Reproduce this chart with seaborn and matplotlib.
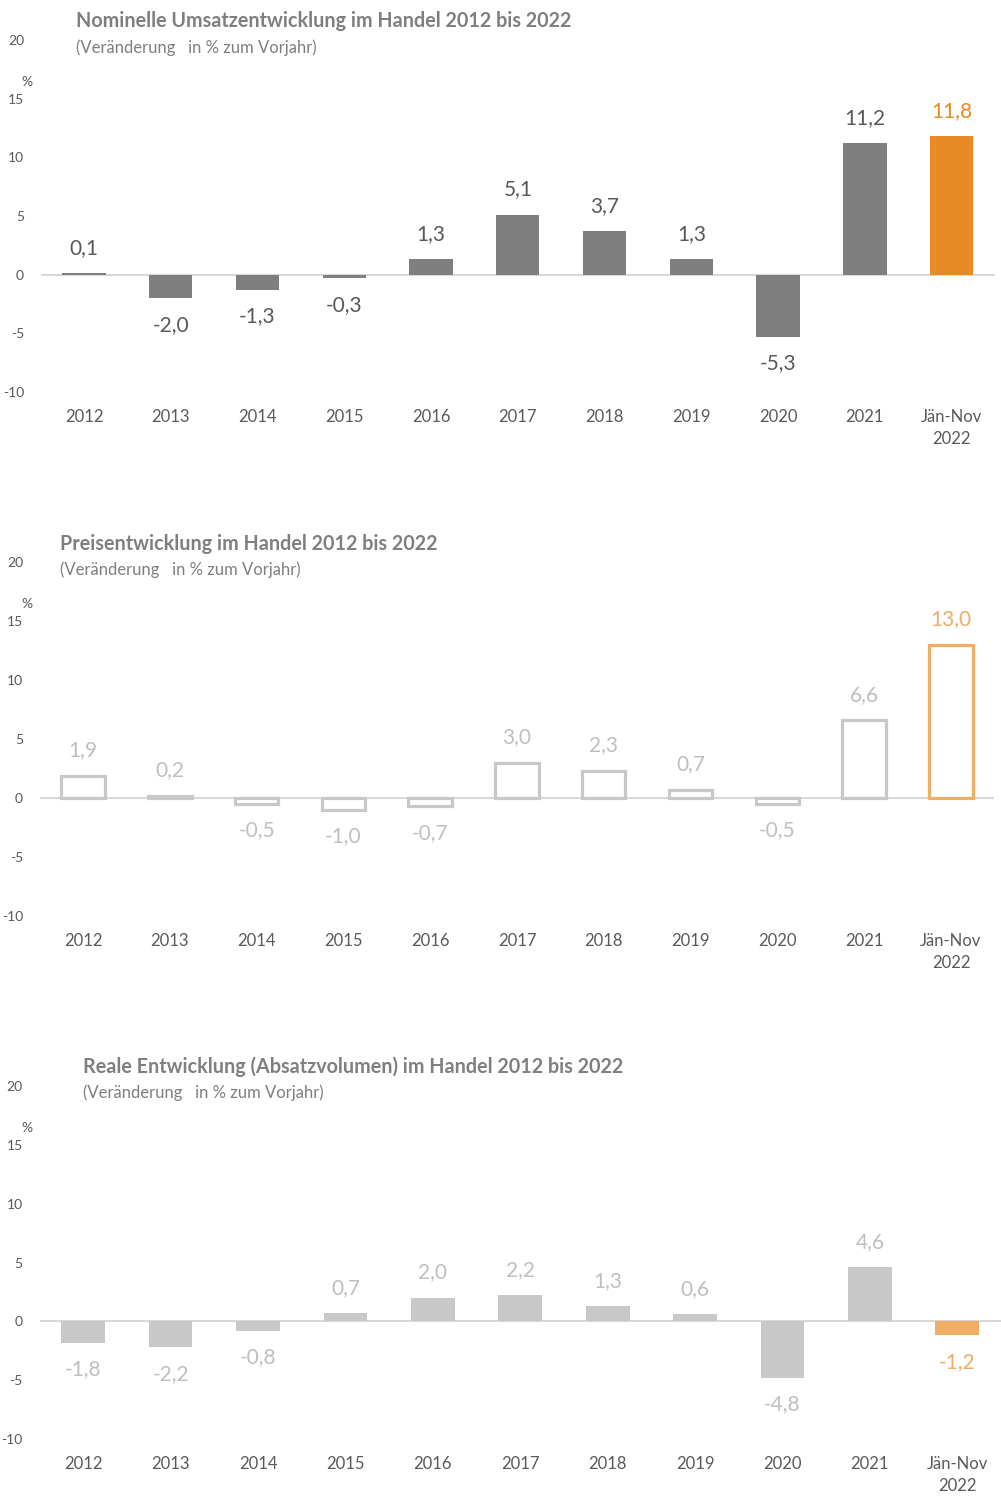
import matplotlib
matplotlib.use("Agg")
import matplotlib.pyplot as plt
import seaborn as sns
import pandas as pd

sns.set_theme(style="white")
plt.rcParams['font.family'] = ['Lato', 'DejaVu Sans']

categories = ["2012", "2013", "2014", "2015", "2016", "2017", "2018", "2019", "2020", "2021", "Jän-Nov\n2022"]
nominal = [0.1, -2.0, -1.3, -0.3, 1.3, 5.1, 3.7, 1.3, -5.3, 11.2, 11.8]
prices = [1.9, 0.2, -0.5, -1.0, -0.7, 3.0, 2.3, 0.7, -0.5, 6.6, 13.0]
real = [-1.8, -2.2, -0.8, 0.7, 2.0, 2.2, 1.3, 0.6, -4.8, 4.6, -1.2]
yticks = [-10, -5, 0, 5, 10, 15, 20]
titles = ["Nominelle Umsatzentwicklung im Handel 2012 bis 2022",
          "Preisentwicklung im Handel 2012 bis 2022",
          "Reale Entwicklung (Absatzvolumen) im Handel 2012 bis 2022"]
subtitle = "(Veränderung   in % zum Vorjahr)"

W, H = 1001, 1497
fig = plt.figure(figsize=(W / 100, H / 100), dpi=100)

def fx(px):
    return px / W

def fy(py):
    return 1 - py / H

panels = [
    dict(vals=nominal, top=40, bottom=392, left=40.6, right=995, title_x=76, title_y=21, sub_y=48,
         colors=["#7f7f7f"] * 10 + ["#e88a25"], lab=["#595959"] * 10 + ["#e88a25"], fill=True),
    dict(vals=prices, top=562, bottom=916, left=39.6, right=994.4, title_x=60, title_y=544, sub_y=570,
         colors=["#c8c8c8"] * 10 + ["#f0ad64"], lab=["#bfbfbf"] * 10 + ["#f0ad64"], fill=False),
    dict(vals=real, top=1086, bottom=1439, left=39.5, right=1001, title_x=83, title_y=1067, sub_y=1093,
         colors=["#c8c8c8"] * 10 + ["#f0ad64"], lab=["#bfbfbf"] * 10 + ["#f0ad64"], fill=True),
]

for i, p in enumerate(panels):
    ax = fig.add_axes([fx(p["left"]), fy(p["bottom"]), fx(p["right"] - p["left"]),
                       (p["bottom"] - p["top"]) / H])
    df = pd.DataFrame({"cat": categories, "val": p["vals"]})
    if p["fill"]:
        sns.barplot(data=df, x="cat", y="val", hue="cat", palette=p["colors"], legend=False,
                    width=0.5, ax=ax, saturation=1, linewidth=0)
    else:
        sns.barplot(data=df, x="cat", y="val", hue="cat", palette=p["colors"], legend=False,
                    width=0.5, ax=ax, saturation=1, fill=False, linewidth=2.3)
    ax.set_ylim(-10, 20)
    ax.set_xlim(-0.5, 10.5)
    ax.axhline(0, color="#d9d9d9", lw=1.5, zorder=0.5)
    for s in ax.spines.values():
        s.set_visible(False)
    ax.set_xlabel("")
    ax.set_ylabel("")
    ax.set_yticks(yticks)
    ax.set_yticklabels([str(t) for t in yticks])
    ax.tick_params(axis="y", length=0, pad=12, labelsize=10, labelcolor="#595959")
    ax.tick_params(axis="x", length=0, pad=12, labelsize=12, labelcolor="#595959")
    for lbl in ax.get_xticklabels():
        lbl.set_linespacing(1.45)
    ax.grid(False)
    for j, v in enumerate(p["vals"]):
        txt = f"{v:.1f}".replace(".", ",")
        if v >= 0:
            ax.annotate(txt, (j, v), xytext=(0, 11), textcoords="offset points", ha="center",
                        va="bottom", fontsize=15, color=p["lab"][j])
        else:
            ax.annotate(txt, (j, v), xytext=(0, -12), textcoords="offset points", ha="center",
                        va="top", fontsize=15, color=p["lab"][j])
    # % label
    ypct = p["top"] + (p["bottom"] - p["top"]) * (20 - 16.4) / 30
    fig.text(fx(27), fy(ypct), "%", ha="center", va="center", fontsize=10, color="#595959")
    fig.text(fx(p["title_x"]), fy(p["title_y"]), titles[i], ha="left", va="center",
             fontsize=14.2, fontweight="bold", color="#7f7f7f")
    fig.text(fx(p["title_x"]), fy(p["sub_y"]), subtitle, ha="left", va="center",
             fontsize=12, color="#7f7f7f")

fig.savefig("out.png", dpi=100, facecolor="white")
